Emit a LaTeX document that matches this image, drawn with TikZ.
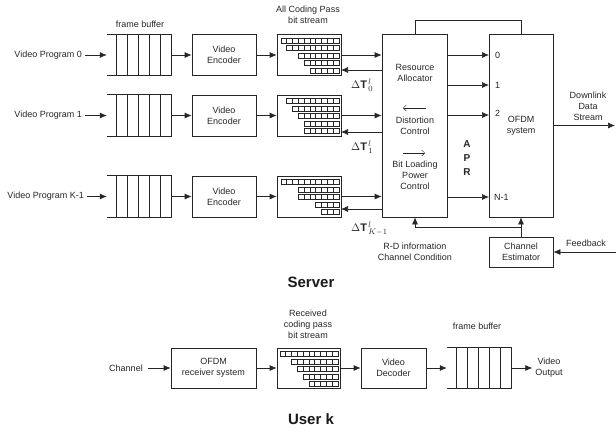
\documentclass[tikz,border=0pt]{standalone}
\usepackage{fontspec}
\setmainfont{Liberation Sans}
\usetikzlibrary{arrows.meta,calc}
\newcommand\bitcells[2]{%
  \foreach \n [count=\r] in {#2} {
    \foreach \c in {1,...,\n} {
      \draw[cell] ($(#1.north east)+(-2.5-\c*5.8,4+\r*7.5-7.5)$) rectangle ++(5.8,5);
    }
  }%
}
\newcommand\framebuf[1]{%
  \draw[ln] (#1.north west) -- (#1.north east);
  \draw[ln] (#1.south west) -- (#1.south east);
  \foreach \k in {0,...,5} {
    \draw[ln] ($(#1.north west)+(10+\k*11,0)$) -- ($(#1.south west)+(10+\k*11,0)$);
  }%
}
\begin{document}
\begin{tikzpicture}[x=1pt,y=-1pt,
  ln/.style={draw=black!85,line width=0.7pt},
  cell/.style={draw=black!85,line width=0.5pt},
  arr/.style={ln,-{Latex[length=7pt,width=6pt]}},
  thinarr/.style={draw=black!85,line width=0.5pt,-{Straight Barb[length=3pt,width=6pt]}},
  lbl/.style={font=\fontsize{9}{11}\selectfont,text=black!85,inner sep=0pt,align=center},
  blk/.style 2 args={ln,lbl,minimum width=#1,minimum height=#2},
  buf/.style={draw=none,minimum width=65pt,minimum height=41pt,inner sep=0pt},
  title/.style={font=\fontsize{15}{17}\selectfont\bfseries,text=black!90,inner sep=0pt},
  dt/.style={font=\fontsize{11}{13}\selectfont,text=black!85,inner sep=0pt,anchor=west}
]
\useasboundingbox (0,0) rectangle (616,432);

% ---------------- Server ----------------
\node[lbl] (fbl) at (140,24) {frame buffer};
\node[lbl] (acp) at (308,14.5) {All Coding Pass\\bit stream};

\node[lbl,anchor=east] (p0) at (82,55) {Video Program 0};
\node[lbl,anchor=east] (p1) at (82,115.5) {Video Program 1};
\node[lbl,anchor=east] (p2) at (84,196.5) {Video Program K-1};

\node[buf] (buf0) at (139.5,55) {};
\node[buf] (buf1) at (139.5,115.5) {};
\node[buf] (buf2) at (139.5,196.5) {};
\framebuf{buf0}\framebuf{buf1}\framebuf{buf2}

\node[blk={64pt}{41pt}] (enc0) at (224,55) {Video\\Encoder};
\node[blk={64pt}{41pt}] (enc1) at (224,115.5) {Video\\Encoder};
\node[blk={64pt}{41pt}] (enc2) at (224,196.5) {Video\\Encoder};

\node[blk={64pt}{41pt}] (bs0) at (309,55) {};
\node[blk={64pt}{41pt}] (bs1) at (309,115.5) {};
\node[blk={64pt}{41pt}] (bs2) at (309,196.5) {};
\bitcells{bs0}{10,9,7,6,5}
\bitcells{bs1}{9,8,7,6,6}
\bitcells{bs2}{10,7,7,4,3}

\foreach \i in {0,1,2} {
  \draw[arr] ($(p\i.east)+(3,0)$) -- (buf\i.west);
  \draw[arr] (buf\i.east) -- (enc\i.west);
  \draw[arr] (enc\i.east) -- (bs\i.west);
}

\node[blk={65pt}{183pt}] (ra) at (414.5,125.5) {};
\node[blk={64pt}{183pt}] (ofdm) at (521,125.5) {OFDM\\system};
\node[blk={64pt}{30pt}] (ce) at (521,252) {Channel\\Estimator};

\node[lbl] (ralbl) at (415,72.5) {Resource\\Allocator};
\node[lbl] (dclbl) at (415,126) {Distortion\\Control};
\node[lbl] (bllbl) at (415,175) {Bit Loading\\Power\\Control};
\coordinate (la1) at (426,108);
\coordinate (la2) at (403,108);
\coordinate (ra1) at (403,153);
\coordinate (ra2) at (425,153);
\draw[thinarr] (la1) -- (la2);
\draw[thinarr] (ra1) -- (ra2);

\node[lbl,font=\fontsize{10}{14}\selectfont\bfseries] (apr) at (467,158) {A\\P\\R};

% bitstream <-> allocator
\draw[arr] (bs0.east) -- (ra.west |- bs0.east);
\draw[arr] (bs1.east) -- (ra.west |- bs1.east);
\draw[arr] (bs2.east) -- (ra.west |- bs2.east);
\coordinate (in0) at (341,70);
\coordinate (in1) at (341,132);
\coordinate (in2) at (341,209);
\draw[arr] (ra.west |- in0) -- (in0);
\draw[arr] (ra.west |- in1) -- (in1);
\draw[arr] (ra.west |- in2) -- (in2);
\node[dt] (dt0) at (351,85) {$\Delta\mathbf{T}^{\,l}_{\,0}$};
\node[dt] (dt1) at (351,147) {$\Delta\mathbf{T}^{\,l}_{\,1}$};
\node[dt] (dt2) at (351,229) {$\Delta\mathbf{T}^{\,l}_{\,K-1}$};

% allocator -> OFDM subcarriers
\coordinate (o0) at (489,55);
\coordinate (o1) at (489,85);
\coordinate (o2) at (489,115);
\coordinate (o3) at (489,197);
\foreach \j in {0,1,2,3} { \draw[arr] (ra.east |- o\j) -- (o\j); }
\node[lbl,anchor=west] (s0) at (495,55) {0};
\node[lbl,anchor=west] (s1) at (495,85) {1};
\node[lbl,anchor=west] (s2) at (495,113) {2};
\node[lbl,anchor=west] (s3) at (494,197) {N-1};

% top link
\coordinate (tl) at (415,20);
\draw[ln] (ra.north -| tl) -- (tl) -| (ofdm.north);

% channel estimator links
\coordinate (br) at (521,227);
\draw[arr] (ce.north) -- (ofdm.south);
\draw[arr] (br) -| (ra.south -| tl);

\node[lbl] (rdl) at (415,252) {R-D information\\Channel Condition};

\coordinate (dl) at (615,125.5);
\draw[arr] (ofdm.east |- dl) -- (dl);
\node[lbl] (dll) at (588,106) {Downlink\\Data\\Stream};

\coordinate (fb) at (616,252);
\draw[arr] (fb) -- (ce.east);
\node[lbl] (fbk) at (586,243) {Feedback};

\node[title] (server) at (311,282) {Server};

% ---------------- User k ----------------
\node[lbl] (chl) at (126,368) {Channel};
\node[blk={85pt}{40pt}] (rx) at (213.5,368) {OFDM\\receiver system};
\node[blk={63pt}{40pt}] (bsr) at (308.5,368) {};
\bitcells{bsr}{10,8,7,6,5}
\node[lbl] (rcl) at (308,324) {Received\\coding pass\\bit stream};
\node[blk={65pt}{40pt}] (dec) at (393.5,368) {Video\\Decoder};
\node[buf,minimum width=64pt] (bufr) at (479,368) {};
\framebuf{bufr}
\node[lbl] (fbl2) at (477,326) {frame buffer};
\node[lbl] (vo) at (549,368) {Video\\Output};

\draw[arr] ($(chl.east)+(5,0)$) -- (rx.west);
\draw[arr] (rx.east) -- (bsr.west);
\draw[arr] (bsr.east) -- (dec.west);
\draw[arr] (dec.east) -- (bufr.west);
\draw[arr] (bufr.east) -- ($(vo.west)+(-3,0)$);

\node[title] (user) at (311,419) {User k};
\end{tikzpicture}
\end{document}
